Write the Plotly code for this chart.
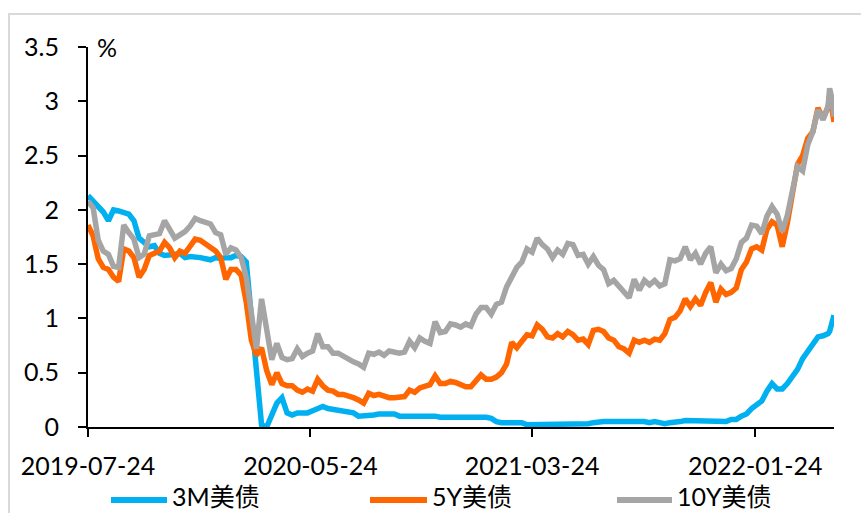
import pandas as pd
import plotly.graph_objects as go

# Weekly (Wednesday) observations 2019-07-24 .. 2022-05-04, then the last days of the sample
dates = list(pd.date_range("2019-07-24", periods=146, freq="7D").strftime("%Y-%m-%d"))
dates += ["2022-05-06", "2022-05-09", "2022-05-12"]

# 3-month Treasury yield, %
ust_3m = [
    2.13, 2.08, 2.04, 1.98, 1.90, 2.00, 1.99, 1.97, 1.96, 1.90,
    1.74, 1.70, 1.66, 1.67, 1.60, 1.58, 1.58, 1.59, 1.60, 1.56,
    1.57, 1.57, 1.56, 1.55, 1.54, 1.56, 1.55, 1.56, 1.56, 1.58,
    1.57, 1.52, 1.00, 0.45, 0.02, 0.00, 0.10, 0.22, 0.27, 0.13,
    0.11, 0.13, 0.13, 0.13, 0.15, 0.17, 0.19, 0.17, 0.16, 0.15,
    0.15, 0.14, 0.13, 0.10, 0.10, 0.11, 0.11, 0.12, 0.12, 0.13,
    0.12, 0.10, 0.10, 0.10, 0.11, 0.11, 0.10, 0.10, 0.10, 0.09,
    0.09, 0.09, 0.09, 0.10, 0.09, 0.09, 0.09, 0.09, 0.09, 0.08,
    0.05, 0.04, 0.04, 0.04, 0.05, 0.04, 0.02, 0.02, 0.03, 0.02,
    0.02, 0.03, 0.02, 0.02, 0.02, 0.02, 0.02, 0.03, 0.03, 0.04,
    0.05, 0.05, 0.05, 0.05, 0.05, 0.05, 0.05, 0.06, 0.06, 0.05,
    0.04, 0.05, 0.04, 0.03, 0.04, 0.04, 0.05, 0.06, 0.06, 0.05,
    0.06, 0.06, 0.06, 0.05, 0.06, 0.05, 0.07, 0.07, 0.10, 0.12,
    0.17, 0.20, 0.24, 0.33, 0.40, 0.35, 0.35, 0.40, 0.46, 0.53,
    0.63, 0.70, 0.78, 0.83, 0.84, 0.86,
    0.88, 0.94, 1.03,
]

# 5-year Treasury yield, %
ust_5y = [
    1.86, 1.76, 1.55, 1.47, 1.45, 1.38, 1.34, 1.64, 1.62, 1.56,
    1.38, 1.45, 1.58, 1.60, 1.62, 1.70, 1.65, 1.56, 1.62, 1.60,
    1.66, 1.73, 1.72, 1.69, 1.65, 1.62, 1.56, 1.36, 1.45, 1.45,
    1.40, 1.15, 0.80, 0.66, 0.73, 0.52, 0.39, 0.50, 0.40, 0.38,
    0.38, 0.34, 0.32, 0.35, 0.33, 0.44, 0.38, 0.34, 0.33, 0.30,
    0.30, 0.29, 0.27, 0.25, 0.22, 0.31, 0.29, 0.30, 0.28, 0.27,
    0.27, 0.27, 0.28, 0.34, 0.32, 0.36, 0.38, 0.39, 0.47, 0.40,
    0.40, 0.42, 0.41, 0.39, 0.37, 0.37, 0.43, 0.48, 0.44, 0.44,
    0.46, 0.50, 0.58, 0.78, 0.73, 0.80, 0.85, 0.84, 0.94, 0.90,
    0.83, 0.82, 0.86, 0.83, 0.88, 0.85, 0.80, 0.81, 0.76, 0.89,
    0.90, 0.88, 0.82, 0.80, 0.74, 0.72, 0.68, 0.80, 0.78, 0.80,
    0.78, 0.81, 0.80, 0.86, 0.99, 1.01, 1.07, 1.18, 1.11, 1.18,
    1.12, 1.24, 1.33, 1.15, 1.27, 1.22, 1.24, 1.28, 1.45, 1.52,
    1.64, 1.66, 1.63, 1.82, 1.89, 1.86, 1.66, 1.88, 2.12, 2.42,
    2.50, 2.66, 2.72, 2.94, 2.84, 2.95,
    3.06, 2.94, 2.81,
]

# 10-year Treasury yield, %
ust_10y = [
    2.08, 2.02, 1.72, 1.62, 1.59, 1.48, 1.47, 1.86, 1.79, 1.73,
    1.56, 1.59, 1.76, 1.77, 1.78, 1.90, 1.82, 1.74, 1.77, 1.80,
    1.85, 1.92, 1.90, 1.88, 1.87, 1.79, 1.77, 1.59, 1.65, 1.63,
    1.56, 1.38, 1.02, 0.72, 1.18, 0.87, 0.62, 0.77, 0.64, 0.62,
    0.63, 0.72, 0.65, 0.68, 0.70, 0.86, 0.74, 0.74, 0.68, 0.68,
    0.65, 0.62, 0.60, 0.58, 0.55, 0.68, 0.67, 0.69, 0.66, 0.70,
    0.69, 0.68, 0.69, 0.79, 0.73, 0.82, 0.79, 0.77, 0.97, 0.87,
    0.88, 0.95, 0.94, 0.92, 0.95, 0.93, 1.04, 1.10, 1.10, 1.04,
    1.13, 1.15, 1.29, 1.38, 1.47, 1.52, 1.64, 1.61, 1.74, 1.68,
    1.64, 1.56, 1.63, 1.59, 1.69, 1.68, 1.58, 1.59, 1.50, 1.57,
    1.49, 1.45, 1.32, 1.35, 1.29, 1.25, 1.19, 1.36, 1.26, 1.35,
    1.31, 1.35, 1.30, 1.32, 1.54, 1.53, 1.55, 1.66, 1.54, 1.60,
    1.50, 1.60, 1.66, 1.42, 1.50, 1.44, 1.46, 1.55, 1.70, 1.74,
    1.86, 1.85, 1.78, 1.94, 2.03, 1.96, 1.80, 1.95, 2.18, 2.40,
    2.36, 2.60, 2.72, 2.92, 2.83, 2.96,
    3.12, 3.03, 2.86,
]

series_names = ["3M美债", "5Y美债", "10Y美债"]
series_values = [ust_3m, ust_5y, ust_10y]
series_colors = ["#00B0F0", "#FF6600", "#A5A5A5"]

x_ticks = ["2019-07-24", "2020-05-24", "2021-03-24", "2022-01-24"]

W, H = 861, 513
M_L, M_R, M_T, M_B = 88, 27, 47, 86
PW, PH = W - M_L - M_R, H - M_T - M_B
FONT = "Lato, 'Noto Sans CJK SC', sans-serif"


def px_x(p):
    return (p - M_L) / PW


def px_y(p):
    return (H - M_B - p) / PH


fig = go.Figure()
for name, vals, color in zip(series_names, series_values, series_colors):
    fig.add_trace(go.Scatter(
        x=dates, y=vals, mode="lines", name=name, showlegend=False,
        line=dict(color=color, width=5.5),
    ))

axis_common = dict(
    showgrid=False, zeroline=False, showline=True, linecolor="black",
    linewidth=2, ticks="outside", ticklen=8, tickwidth=2, tickcolor="black",
    tickfont=dict(family=FONT, size=25, color="black"),
)

fig.update_xaxes(
    type="date", range=[dates[0], dates[-1]],
    tickvals=x_ticks, ticktext=x_ticks, ticklabelstandoff=8,
    **axis_common,
)
fig.update_yaxes(
    range=[0, 3.5], dtick=0.5, ticklabelstandoff=14,
    **axis_common,
)

shapes = [
    # outer frame of the chart area
    dict(type="rect", xref="paper", yref="paper",
         x0=px_x(9), x1=px_x(W + 20), y0=px_y(H + 20), y1=px_y(14),
         line=dict(color="#D9D9D9", width=2), fillcolor="rgba(0,0,0,0)",
         layer="below"),
]
annotations = [
    dict(text="%", xref="paper", yref="paper", x=px_x(95), y=px_y(47),
         xanchor="left", yanchor="middle", showarrow=False,
         font=dict(family=FONT, size=25, color="black")),
]

# hand-placed legend row below the axis
legend_items = [(111, 167, 170), (370, 427, 430), (617, 672, 675)]
for (lx0, lx1, tx), name, color in zip(legend_items, series_names, series_colors):
    shapes.append(dict(type="line", xref="paper", yref="paper",
                       x0=px_x(lx0), x1=px_x(lx1), y0=px_y(500), y1=px_y(500),
                       line=dict(color=color, width=6)))
    annotations.append(dict(text=name, xref="paper", yref="paper",
                            x=px_x(tx), y=px_y(496), xanchor="left",
                            yanchor="middle", showarrow=False,
                            font=dict(family=FONT, size=25, color="black")))

fig.update_layout(
    width=W, height=H,
    margin=dict(l=M_L, r=M_R, t=M_T, b=M_B),
    paper_bgcolor="white", plot_bgcolor="white",
    shapes=shapes, annotations=annotations,
)

fig.write_html("out.html")
